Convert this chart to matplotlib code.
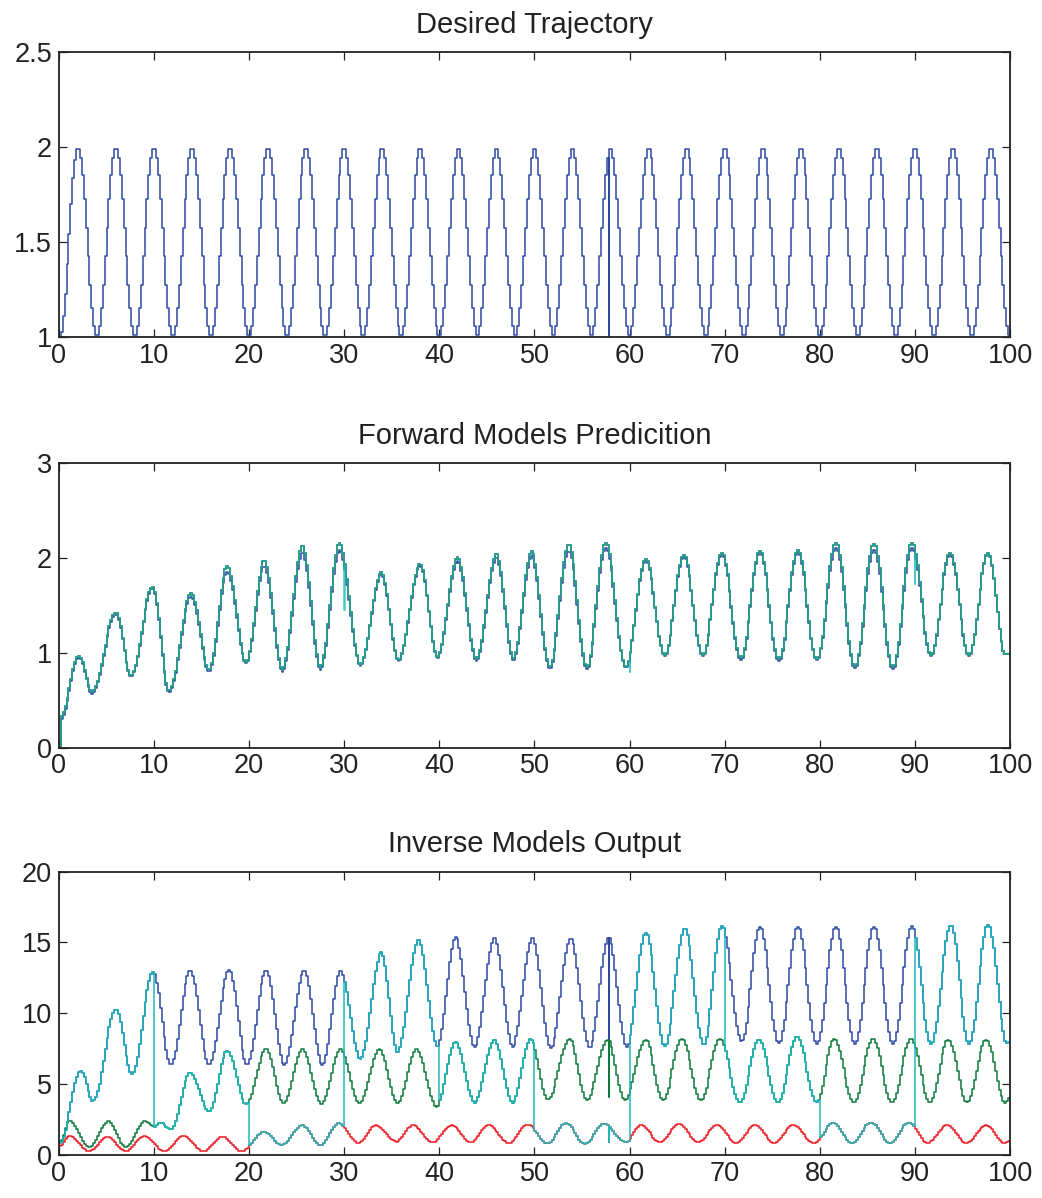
import numpy as np
import matplotlib
matplotlib.use("Agg")
import matplotlib.pyplot as plt

plt.rcParams['font.family'] = ['Liberation Sans', 'DejaVu Sans']

# shape of one rising half cycle (fraction of the swing at each of the 10 steps)
half_cycle_shape = [0.0, 0.02, 0.1, 0.2, 0.35, 0.5, 0.65, 0.8, 0.9, 0.98, 1.0]

# --- Desired trajectory: turning points (time, value)
des_t = [0, 1.9, 3.9, 5.9, 7.9, 9.9, 11.9, 13.9, 15.9, 17.9, 19.9, 21.9, 23.9,
         25.9, 27.9, 29.9, 31.9, 33.9, 35.9, 37.9, 39.9, 41.9, 43.9, 45.9,
         47.9, 49.9, 51.9, 53.9, 55.9, 57.9, 59.9, 61.9, 63.9, 65.9, 67.9,
         69.9, 71.9, 73.9, 75.9, 77.9, 79.9, 81.9, 83.9, 85.9, 87.9, 89.9,
         91.9, 93.9, 95.9, 97.9, 99.9, 100]
des_v = [1.0, 2.0, 1.0, 2.0, 1.0, 2.0, 1.0, 2.0, 1.0, 2.0, 1.0, 2.0, 1.0,
         2.0, 1.0, 2.0, 1.0, 2.0, 1.0, 2.0, 1.0, 2.0, 1.0, 2.0,
         1.0, 2.0, 1.0, 2.0, 1.0, 2.0, 1.0, 2.0, 1.0, 2.0, 1.0,
         2.0, 1.0, 2.0, 1.0, 2.0, 1.0, 2.0, 1.0, 2.0, 1.0, 2.0,
         1.0, 2.0, 1.0, 2.0, 1.0, 1.0]

# --- Forward models prediction
fwd_t = [0, 0.1, 2.0, 3.4, 5.9, 7.5, 9.75, 11.5, 13.8, 15.7, 17.6, 19.6, 21.5,
         23.4, 25.5, 27.4, 29.4, 31.6, 33.8, 35.6, 37.9, 39.7, 41.8, 43.8,
         45.9, 47.7, 49.6, 51.5, 53.5, 55.4, 57.4, 59.5, 61.6, 63.6, 65.6,
         67.6, 69.6, 71.6, 73.6, 75.6, 77.6, 79.6, 81.6, 83.6, 85.6, 87.6,
         89.6, 91.6, 93.6, 95.6, 97.6, 99.4, 100]
fwd_main = [0.0, 0.33, 0.97, 0.59, 1.43, 0.76, 1.70, 0.60, 1.63, 0.82, 1.91,
            0.90, 1.98, 0.82, 2.14, 0.84, 2.16, 0.87, 1.85, 0.92, 1.94, 0.95,
            2.01, 0.93, 2.05, 0.93, 2.07, 0.85, 2.15, 0.85, 2.16, 0.85, 1.99,
            0.98, 2.03, 0.98, 2.05, 0.94, 2.07, 0.93, 2.08, 0.93, 2.16, 0.86,
            2.15, 0.85, 2.16, 0.98, 2.05, 0.98, 2.05, 0.99, 0.99]
fwd_blue = [0.0, 0.30, 0.95, 0.57, 1.41, 0.75, 1.68, 0.58, 1.59, 0.80, 1.85,
            0.89, 1.92, 0.80, 2.06, 0.82, 2.08, 0.86, 1.83, 0.91, 1.92, 0.94,
            1.97, 0.91, 2.01, 0.91, 2.02, 0.83, 2.08, 0.83, 2.10, 0.84, 1.97,
            0.97, 2.01, 0.97, 2.03, 0.92, 2.05, 0.91, 2.05, 0.92, 2.10, 0.84,
            2.08, 0.83, 2.10, 0.97, 2.03, 0.97, 2.04, 0.99, 0.99]
fwd_glitch_t = [30.0, 60.0, 90.0]
fwd_glitch_v = [1.45, 0.80, 1.72]

# --- Inverse models output
inv_blue_t = [0, 2.2, 3.5, 5.9, 7.6, 9.8, 11.7, 13.7, 15.7, 17.8, 19.7, 21.7,
              23.6, 25.7, 27.6, 29.5, 31.6, 33.8, 35.5, 37.7, 39.7, 41.6,
              43.6, 45.7, 47.6, 49.7, 51.6, 53.7, 55.7, 57.7, 59.6, 61.6,
              63.6, 65.7, 67.7, 69.6, 71.7, 73.6, 75.6, 77.6, 79.6, 81.6,
              83.6, 85.6, 87.6, 89.6, 91.6, 93.7, 95.6, 97.6, 99.6, 100]
inv_blue_v = [0.85, 5.95, 3.8, 10.3, 5.7, 12.9, 6.35, 13.05, 6.35, 13.05,
              6.35, 13.05, 6.35, 13.05, 6.35, 13.05, 6.75, 14.3, 7.2, 15.25,
              7.6, 15.4, 7.6, 15.4, 7.65, 15.4, 7.55, 15.35, 7.55, 15.4,
              7.65, 15.7, 7.7, 16.0, 7.75, 16.15, 8.0, 16.1, 7.9, 16.1,
              7.85, 16.1, 7.85, 16.1, 7.85, 16.15, 7.85, 16.25, 7.85, 16.25,
              7.9, 8.0]
inv_green_t = [0, 1.0, 3.1, 5.1, 6.9, 9.0, 10.0, 10.5, 11.7, 13.7, 15.7, 17.6,
               19.6, 21.7, 23.5, 25.5, 27.5, 29.5, 31.5, 33.6, 35.5, 37.5,
               39.6, 41.6, 43.6, 45.7, 47.6, 49.5, 51.3, 53.6, 55.4, 57.6,
               59.4, 61.6, 63.4, 65.4, 67.4, 69.4, 71.5, 73.5, 75.5, 77.5,
               79.6, 81.4, 83.5, 85.5, 87.5, 89.5, 91.5, 93.4, 95.4, 97.4,
               99.4, 100]
inv_green_v = [0.9, 2.4, 0.55, 2.4, 0.55, 2.4, 2.0, 2.3, 1.8, 5.8, 3.05, 7.35,
               3.6, 7.5, 3.6, 7.5, 3.55, 7.5, 3.6, 7.5, 3.6, 7.5,
               3.4, 8.0, 3.7, 8.15, 3.7, 8.2, 3.9, 8.2, 3.9, 8.15,
               3.9, 8.15, 3.9, 8.2, 3.9, 8.2, 3.7, 8.15, 3.7, 8.35,
               3.75, 8.2, 3.7, 8.2, 3.7, 8.2, 3.7, 8.15, 3.75, 8.15,
               3.7, 4.1]
inv_red_t = [0, 1.0, 3.1, 5.0, 6.9, 8.9, 11.0, 13.0, 15.1, 17.1, 19.1, 21.5,
             23.3, 25.5, 27.4, 29.3, 31.4, 33.2, 35.4, 37.1, 39.2, 41.2, 43.2,
             45.1, 47.2, 49.2, 51.3, 53.2, 55.2, 57.2, 59.5, 61.1, 63.1, 65.1,
             67.1, 69.1, 71.1, 73.1, 75.1, 77.1, 79.3, 81.3, 83.3, 85.3, 87.3,
             89.3, 91.2, 93.3, 95.3, 97.4, 99.3, 100]
inv_red_v = [0.65, 1.35, 0.25, 1.3, 0.25, 1.35, 0.25, 1.35, 0.25, 1.3, 0.25,
             1.65, 0.7, 2.1, 0.7, 2.25, 0.85, 2.1, 0.95, 2.1, 0.9, 2.1, 0.9,
             2.1, 0.85, 2.15, 0.8, 2.25, 0.8, 2.2, 0.9, 2.1, 0.9, 2.2, 0.9,
             2.1, 0.85, 2.1, 0.85, 2.1, 0.85, 2.25, 0.85, 2.3, 0.85, 2.3,
             0.85, 2.1, 0.85, 2.1, 0.85, 1.0]
# which inverse model (0 blue, 1 green, 2 red) the cyan output follows per 10 s
selected_model = [0, 1, 2, 0, 1, 2, 0, 1, 2, 0]

# one-sample glitch seen in every signal near t = 57.8
glitch_t = 57.8
glitch_des, glitch_blue, glitch_green, glitch_red = 1.0, 7.9, 4.1, 0.95

dt = 0.2
t = np.round(np.arange(0, 100 + dt / 2, dt), 6)
shape_x = np.linspace(0, 1, len(half_cycle_shape))


def staircase(tk, vk):
    tk = np.asarray(tk, float)
    vk = np.asarray(vk, float)
    i = np.clip(np.searchsorted(tk, t, side='right') - 1, 0, len(tk) - 2)
    s = (t - tk[i]) / (tk[i + 1] - tk[i])
    return vk[i] + (vk[i + 1] - vk[i]) * np.interp(s, shape_x, half_cycle_shape)


def with_glitches(y, gts, gvs):
    # a glitch is a single very short sample, drawn as one thin spike
    tt, yy = t.copy(), y.copy()
    for gt, gv in sorted(zip(gts, gvs), reverse=True):
        k = int(round(gt / dt))
        back = yy[k]
        yy[k] = gv
        tt = np.insert(tt, k + 1, tt[k] + 0.03)
        yy = np.insert(yy, k + 1, back)
    return tt, yy


desired = staircase(des_t, des_v)

f_main = staircase(fwd_t, fwd_main)
f_blue = staircase(fwd_t, fwd_blue)

i_blue = staircase(inv_blue_t, inv_blue_v)
i_green = staircase(inv_green_t, inv_green_v)
i_red = staircase(inv_red_t, inv_red_v)
seg = np.minimum(np.floor(t / 10 + 1e-9).astype(int), 9)
choice = np.array(selected_model)[seg]
i_cyan = np.choose(choice, [i_blue, i_green, i_red])
glitch_cyan = [glitch_blue, glitch_green, glitch_red][selected_model[int(glitch_t // 10)]]

c_blue = '#2e48a2'
c_green = '#0d7a3a'
c_red = '#ec1c24'
c_cyan = '#1fb8bd'

fig = plt.figure(figsize=(10.42, 11.98), dpi=100)
ax1 = fig.add_axes([0.0566, 0.7187, 0.9127, 0.2379])
ax2 = fig.add_axes([0.0566, 0.3759, 0.9127, 0.2376])
ax3 = fig.add_axes([0.0566, 0.0359, 0.9127, 0.2365])

lw = 1.1
ax1.plot(*with_glitches(desired, [glitch_t], [glitch_des]),
         drawstyle='steps-post', color=c_blue, lw=lw)

ax2.plot(t, f_blue, drawstyle='steps-post', color=c_blue, lw=lw)
ax2.plot(t, f_main, drawstyle='steps-post', color=c_red, lw=lw)
ax2.plot(t, f_main, drawstyle='steps-post', color=c_green, lw=lw)
ax2.plot(*with_glitches(f_main, fwd_glitch_t, fwd_glitch_v),
         drawstyle='steps-post', color=c_cyan, lw=lw, alpha=0.8)

ax3.plot(*with_glitches(i_blue, [glitch_t], [glitch_blue]),
         drawstyle='steps-post', color=c_blue, lw=lw)
ax3.plot(*with_glitches(i_green, [glitch_t], [glitch_green]),
         drawstyle='steps-post', color=c_green, lw=lw)
ax3.plot(*with_glitches(i_red, [glitch_t], [glitch_red]),
         drawstyle='steps-post', color=c_red, lw=lw)
ax3.plot(*with_glitches(i_cyan, [glitch_t], [glitch_cyan]),
         drawstyle='steps-post', color=c_cyan, lw=lw)

titles = ["Desired Trajectory", "Forward Models Predicition", "Inverse Models Output"]
ylims = [(1, 2.5), (0, 3), (0, 20)]
yticks = [[1, 1.5, 2, 2.5], [0, 1, 2, 3], [0, 5, 10, 15, 20]]
ylabels = [['1', '1.5', '2', '2.5'], ['0', '1', '2', '3'],
           ['0', '5', '10', '15', '20']]

for ax, title, yl, yt, ytl in zip([ax1, ax2, ax3], titles, ylims, yticks, ylabels):
    ax.set_xlim(0, 100)
    ax.set_ylim(*yl)
    ax.set_xticks(range(0, 101, 10))
    ax.set_yticks(yt)
    ax.set_yticklabels(ytl)
    ax.set_title(title, fontsize=21, pad=14, color='#222222')
    ax.tick_params(direction='in', length=6, width=0.9, top=True, right=True,
                   labelsize=19.5, colors='#222222')
    ax.tick_params(axis='x', pad=4)
    ax.tick_params(axis='y', pad=5)
    for sp in ax.spines.values():
        sp.set_linewidth(1.3)
        sp.set_color('#222222')

fig.savefig('out.png', dpi=100)
